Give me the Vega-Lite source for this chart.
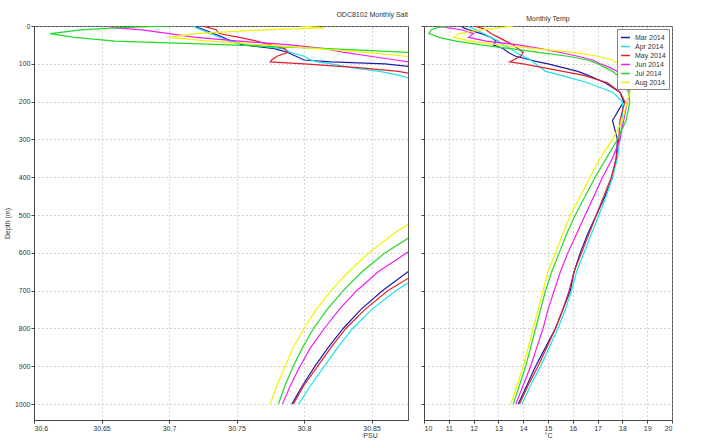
{
  "$schema": "https://vega.github.io/schema/vega-lite/v6.json",
  "padding": {"left": 2, "top": 10, "right": 0, "bottom": 0},
  "config": {
    "font": "Liberation Sans",
    "axis": {
      "labelFontSize": 7, "titleFontSize": 7, "titleFontWeight": "normal",
      "labelColor": "#333", "titleColor": "#333", "domainColor": "#444", "tickColor": "#444",
      "gridDash": [1, 3], "gridColor": "#aaa", "tickSize": 3, "labelPadding": 1, "titlePadding": 0
    },
    "title": {"fontSize": 7, "fontWeight": "normal", "color": "#333", "offset": 4},
    "view": {"stroke": "#555"}
  },
  "datasets": {
    "prof": [
      {"m":"Mar 2014","d":0,"s":30.72,"t":11.5},{"m":"Mar 2014","d":5,"s":30.722,"t":11.6},{"m":"Mar 2014","d":10,"s":30.726,"t":11.8},{"m":"Mar 2014","d":20,"s":30.733,"t":12.3},{"m":"Mar 2014","d":30,"s":30.74,"t":12.7},{"m":"Mar 2014","d":40,"s":30.746,"t":12.9},{"m":"Mar 2014","d":50,"s":30.755,"t":12.8},{"m":"Mar 2014","d":60,"s":30.778,"t":13.2},{"m":"Mar 2014","d":70,"s":30.788,"t":13.4},{"m":"Mar 2014","d":80,"s":30.794,"t":13.7},{"m":"Mar 2014","d":90,"s":30.8,"t":14.3},{"m":"Mar 2014","d":95,"s":30.82,"t":14.6},{"m":"Mar 2014","d":100,"s":30.86,"t":15.0},{"m":"Mar 2014","d":110,"s":30.885,"t":15.6},{"m":"Mar 2014","d":120,"s":30.895,"t":16.2},{"m":"Mar 2014","d":130,"s":30.9,"t":16.6},{"m":"Mar 2014","d":150,"s":30.91,"t":17.3},{"m":"Mar 2014","d":175,"s":30.925,"t":17.9},{"m":"Mar 2014","d":200,"s":30.935,"t":18.05},{"m":"Mar 2014","d":250,"s":30.955,"t":17.6},{"m":"Mar 2014","d":300,"s":30.965,"t":17.8},{"m":"Mar 2014","d":350,"s":30.97,"t":17.75},{"m":"Mar 2014","d":400,"s":30.97,"t":17.6},{"m":"Mar 2014","d":450,"s":30.96,"t":17.3},{"m":"Mar 2014","d":500,"s":30.945,"t":16.95},{"m":"Mar 2014","d":550,"s":30.925,"t":16.6},{"m":"Mar 2014","d":600,"s":30.9,"t":16.3},{"m":"Mar 2014","d":650,"s":30.877,"t":16.05},{"m":"Mar 2014","d":700,"s":30.858,"t":15.9},{"m":"Mar 2014","d":750,"s":30.842,"t":15.6},{"m":"Mar 2014","d":800,"s":30.829,"t":15.3},{"m":"Mar 2014","d":850,"s":30.818,"t":14.9},{"m":"Mar 2014","d":900,"s":30.808,"t":14.5},{"m":"Mar 2014","d":950,"s":30.799,"t":14.15},{"m":"Mar 2014","d":1000,"s":30.791,"t":13.8},

      {"m":"Apr 2014","d":0,"s":30.718,"t":11.8},{"m":"Apr 2014","d":5,"s":30.72,"t":11.9},{"m":"Apr 2014","d":10,"s":30.724,"t":12.1},{"m":"Apr 2014","d":20,"s":30.73,"t":12.4},{"m":"Apr 2014","d":30,"s":30.738,"t":12.7},{"m":"Apr 2014","d":40,"s":30.745,"t":13.0},{"m":"Apr 2014","d":50,"s":30.76,"t":13.2},{"m":"Apr 2014","d":60,"s":30.784,"t":13.5},{"m":"Apr 2014","d":70,"s":30.79,"t":13.7},{"m":"Apr 2014","d":80,"s":30.8,"t":14.0},{"m":"Apr 2014","d":90,"s":30.805,"t":14.3},{"m":"Apr 2014","d":95,"s":30.81,"t":14.4},{"m":"Apr 2014","d":100,"s":30.82,"t":14.5},{"m":"Apr 2014","d":110,"s":30.835,"t":14.7},{"m":"Apr 2014","d":120,"s":30.856,"t":14.9},{"m":"Apr 2014","d":130,"s":30.87,"t":15.5},{"m":"Apr 2014","d":150,"s":30.89,"t":16.6},{"m":"Apr 2014","d":175,"s":30.905,"t":17.6},{"m":"Apr 2014","d":200,"s":30.92,"t":18.0},{"m":"Apr 2014","d":250,"s":30.94,"t":18.0},{"m":"Apr 2014","d":300,"s":30.955,"t":17.9},{"m":"Apr 2014","d":350,"s":30.962,"t":17.8},{"m":"Apr 2014","d":400,"s":30.965,"t":17.6},{"m":"Apr 2014","d":450,"s":30.96,"t":17.35},{"m":"Apr 2014","d":500,"s":30.948,"t":17.05},{"m":"Apr 2014","d":550,"s":30.93,"t":16.75},{"m":"Apr 2014","d":600,"s":30.91,"t":16.45},{"m":"Apr 2014","d":650,"s":30.89,"t":16.15},{"m":"Apr 2014","d":700,"s":30.868,"t":15.95},{"m":"Apr 2014","d":750,"s":30.85,"t":15.7},{"m":"Apr 2014","d":800,"s":30.836,"t":15.4},{"m":"Apr 2014","d":850,"s":30.825,"t":15.05},{"m":"Apr 2014","d":900,"s":30.815,"t":14.7},{"m":"Apr 2014","d":950,"s":30.805,"t":14.3},{"m":"Apr 2014","d":1000,"s":30.796,"t":13.95},

      {"m":"May 2014","d":0,"s":30.725,"t":12.0},{"m":"May 2014","d":5,"s":30.73,"t":12.3},{"m":"May 2014","d":10,"s":30.735,"t":12.5},{"m":"May 2014","d":20,"s":30.737,"t":12.7},{"m":"May 2014","d":30,"s":30.752,"t":13.0},{"m":"May 2014","d":40,"s":30.765,"t":13.3},{"m":"May 2014","d":50,"s":30.775,"t":13.6},{"m":"May 2014","d":60,"s":30.786,"t":13.8},{"m":"May 2014","d":70,"s":30.788,"t":14.0},{"m":"May 2014","d":80,"s":30.78,"t":13.9},{"m":"May 2014","d":90,"s":30.776,"t":13.6},{"m":"May 2014","d":95,"s":30.775,"t":13.45},{"m":"May 2014","d":100,"s":30.8,"t":14.0},{"m":"May 2014","d":110,"s":30.84,"t":14.8},{"m":"May 2014","d":120,"s":30.87,"t":15.6},{"m":"May 2014","d":130,"s":30.885,"t":16.4},{"m":"May 2014","d":150,"s":30.9,"t":17.4},{"m":"May 2014","d":175,"s":30.92,"t":17.9},{"m":"May 2014","d":200,"s":30.935,"t":18.1},{"m":"May 2014","d":250,"s":30.955,"t":17.9},{"m":"May 2014","d":300,"s":30.97,"t":17.85},{"m":"May 2014","d":350,"s":30.975,"t":17.75},{"m":"May 2014","d":400,"s":30.975,"t":17.55},{"m":"May 2014","d":450,"s":30.965,"t":17.25},{"m":"May 2014","d":500,"s":30.95,"t":16.95},{"m":"May 2014","d":550,"s":30.93,"t":16.65},{"m":"May 2014","d":600,"s":30.91,"t":16.35},{"m":"May 2014","d":650,"s":30.885,"t":16.05},{"m":"May 2014","d":700,"s":30.862,"t":15.85},{"m":"May 2014","d":750,"s":30.845,"t":15.6},{"m":"May 2014","d":800,"s":30.831,"t":15.3},{"m":"May 2014","d":850,"s":30.82,"t":14.95},{"m":"May 2014","d":900,"s":30.81,"t":14.6},{"m":"May 2014","d":950,"s":30.8,"t":14.2},{"m":"May 2014","d":1000,"s":30.792,"t":13.85},

      {"m":"Jun 2014","d":0,"s":30.655,"t":10.6},{"m":"Jun 2014","d":5,"s":30.66,"t":11.0},{"m":"Jun 2014","d":10,"s":30.68,"t":11.5},{"m":"Jun 2014","d":20,"s":30.7,"t":12.0},{"m":"Jun 2014","d":30,"s":30.72,"t":11.8},{"m":"Jun 2014","d":40,"s":30.752,"t":12.5},{"m":"Jun 2014","d":50,"s":30.79,"t":13.8},{"m":"Jun 2014","d":60,"s":30.815,"t":14.7},{"m":"Jun 2014","d":70,"s":30.83,"t":15.5},{"m":"Jun 2014","d":80,"s":30.849,"t":16.2},{"m":"Jun 2014","d":90,"s":30.868,"t":16.8},{"m":"Jun 2014","d":95,"s":30.877,"t":16.95},{"m":"Jun 2014","d":100,"s":30.885,"t":17.1},{"m":"Jun 2014","d":110,"s":30.9,"t":17.5},{"m":"Jun 2014","d":120,"s":30.91,"t":17.8},{"m":"Jun 2014","d":130,"s":30.92,"t":17.9},{"m":"Jun 2014","d":150,"s":30.935,"t":18.1},{"m":"Jun 2014","d":175,"s":30.95,"t":18.3},{"m":"Jun 2014","d":200,"s":30.96,"t":18.2},{"m":"Jun 2014","d":250,"s":30.975,"t":18.05},{"m":"Jun 2014","d":300,"s":30.98,"t":17.9},{"m":"Jun 2014","d":350,"s":30.975,"t":17.6},{"m":"Jun 2014","d":400,"s":30.965,"t":17.2},{"m":"Jun 2014","d":450,"s":30.95,"t":16.85},{"m":"Jun 2014","d":500,"s":30.93,"t":16.5},{"m":"Jun 2014","d":550,"s":30.905,"t":16.15},{"m":"Jun 2014","d":600,"s":30.876,"t":15.8},{"m":"Jun 2014","d":650,"s":30.855,"t":15.5},{"m":"Jun 2014","d":700,"s":30.839,"t":15.25},{"m":"Jun 2014","d":750,"s":30.826,"t":15.0},{"m":"Jun 2014","d":800,"s":30.815,"t":14.8},{"m":"Jun 2014","d":850,"s":30.805,"t":14.55},{"m":"Jun 2014","d":900,"s":30.797,"t":14.3},{"m":"Jun 2014","d":950,"s":30.79,"t":14.0},{"m":"Jun 2014","d":1000,"s":30.784,"t":13.7},

      {"m":"Jul 2014","d":0,"s":30.7,"t":11.0},{"m":"Jul 2014","d":5,"s":30.66,"t":10.5},{"m":"Jul 2014","d":10,"s":30.635,"t":10.3},{"m":"Jul 2014","d":20,"s":30.612,"t":10.2},{"m":"Jul 2014","d":30,"s":30.63,"t":10.6},{"m":"Jul 2014","d":40,"s":30.66,"t":11.3},{"m":"Jul 2014","d":50,"s":30.745,"t":12.3},{"m":"Jul 2014","d":60,"s":30.818,"t":13.5},{"m":"Jul 2014","d":70,"s":30.878,"t":14.6},{"m":"Jul 2014","d":80,"s":30.9,"t":15.8},{"m":"Jul 2014","d":90,"s":30.91,"t":16.6},{"m":"Jul 2014","d":95,"s":30.915,"t":16.8},{"m":"Jul 2014","d":100,"s":30.92,"t":17.0},{"m":"Jul 2014","d":110,"s":30.93,"t":17.3},{"m":"Jul 2014","d":120,"s":30.94,"t":17.6},{"m":"Jul 2014","d":130,"s":30.945,"t":17.8},{"m":"Jul 2014","d":150,"s":30.955,"t":18.0},{"m":"Jul 2014","d":175,"s":30.965,"t":18.25},{"m":"Jul 2014","d":200,"s":30.97,"t":18.3},{"m":"Jul 2014","d":250,"s":30.98,"t":18.15},{"m":"Jul 2014","d":300,"s":30.975,"t":17.8},{"m":"Jul 2014","d":350,"s":30.965,"t":17.35},{"m":"Jul 2014","d":400,"s":30.95,"t":16.9},{"m":"Jul 2014","d":450,"s":30.93,"t":16.5},{"m":"Jul 2014","d":500,"s":30.91,"t":16.1},{"m":"Jul 2014","d":550,"s":30.882,"t":15.75},{"m":"Jul 2014","d":600,"s":30.86,"t":15.45},{"m":"Jul 2014","d":650,"s":30.843,"t":15.15},{"m":"Jul 2014","d":700,"s":30.829,"t":14.9},{"m":"Jul 2014","d":750,"s":30.817,"t":14.7},{"m":"Jul 2014","d":800,"s":30.807,"t":14.5},{"m":"Jul 2014","d":850,"s":30.799,"t":14.3},{"m":"Jul 2014","d":900,"s":30.792,"t":14.1},{"m":"Jul 2014","d":950,"s":30.786,"t":13.85},{"m":"Jul 2014","d":1000,"s":30.781,"t":13.6},

      {"m":"Aug 2014","d":0,"s":30.797,"t":13.6},{"m":"Aug 2014","d":5,"s":30.815,"t":13.0},{"m":"Aug 2014","d":10,"s":30.77,"t":12.3},{"m":"Aug 2014","d":20,"s":30.72,"t":11.4},{"m":"Aug 2014","d":30,"s":30.7,"t":11.2},{"m":"Aug 2014","d":40,"s":30.73,"t":11.9},{"m":"Aug 2014","d":50,"s":30.77,"t":13.0},{"m":"Aug 2014","d":60,"s":30.81,"t":14.5},{"m":"Aug 2014","d":70,"s":30.845,"t":16.0},{"m":"Aug 2014","d":80,"s":30.876,"t":17.0},{"m":"Aug 2014","d":90,"s":30.89,"t":17.6},{"m":"Aug 2014","d":95,"s":30.895,"t":17.7},{"m":"Aug 2014","d":100,"s":30.9,"t":17.9},{"m":"Aug 2014","d":110,"s":30.91,"t":18.0},{"m":"Aug 2014","d":120,"s":30.92,"t":18.2},{"m":"Aug 2014","d":130,"s":30.93,"t":18.35},{"m":"Aug 2014","d":150,"s":30.94,"t":18.4},{"m":"Aug 2014","d":175,"s":30.95,"t":18.3},{"m":"Aug 2014","d":200,"s":30.96,"t":18.2},{"m":"Aug 2014","d":250,"s":30.97,"t":18.0},{"m":"Aug 2014","d":300,"s":30.965,"t":17.6},{"m":"Aug 2014","d":350,"s":30.95,"t":17.1},{"m":"Aug 2014","d":400,"s":30.93,"t":16.7},{"m":"Aug 2014","d":450,"s":30.91,"t":16.3},{"m":"Aug 2014","d":500,"s":30.888,"t":15.9},{"m":"Aug 2014","d":550,"s":30.866,"t":15.6},{"m":"Aug 2014","d":600,"s":30.848,"t":15.3},{"m":"Aug 2014","d":650,"s":30.833,"t":15.0},{"m":"Aug 2014","d":700,"s":30.82,"t":14.8},{"m":"Aug 2014","d":750,"s":30.809,"t":14.6},{"m":"Aug 2014","d":800,"s":30.8,"t":14.4},{"m":"Aug 2014","d":850,"s":30.792,"t":14.2},{"m":"Aug 2014","d":900,"s":30.786,"t":14.0},{"m":"Aug 2014","d":950,"s":30.78,"t":13.75},{"m":"Aug 2014","d":1000,"s":30.775,"t":13.5}
    ]
  },
  "resolve": {"legend": {"color": "independent"}},
  "spacing": 11,
  "hconcat": [
    {
      "width": 374,
      "height": 394,
      "title": {"text": "ODC8102 Monthly Salt", "anchor": "end"},
      "data": {"name": "prof"},
      "mark": {"type": "line", "clip": true, "strokeWidth": 1.2},
      "encoding": {
        "x": {
          "field": "s", "type": "quantitative",
          "scale": {"domain": [30.6, 30.877], "nice": false, "zero": false},
          "axis": {"values": [30.6, 30.65, 30.7, 30.75, 30.8, 30.85], "format": "~g", "title": "PSU", "titleX": 336}
        },
        "y": {
          "field": "d", "type": "quantitative",
          "scale": {"domain": [0, 1042], "reverse": true, "nice": false},
          "axis": {"values": [0, 100, 200, 300, 400, 500, 600, 700, 800, 900, 1000], "format": "d", "title": "Depth (m)", "titlePadding": 4}
        },
        "color": {
          "field": "m", "type": "nominal",
          "scale": {
            "domain": ["Mar 2014", "Apr 2014", "May 2014", "Jun 2014", "Jul 2014", "Aug 2014"],
            "range": ["#1c1ca8", "#19e3ea", "#e3202a", "#f21cf2", "#22d92a", "#f2f200"]
          },
          "legend": null
        },
        "order": {"field": "d", "type": "quantitative"}
      }
    },
    {
      "width": 248,
      "height": 394,
      "title": {"text": "Monthly Temp", "anchor": "middle"},
      "data": {"name": "prof"},
      "mark": {"type": "line", "clip": true, "strokeWidth": 1.2},
      "encoding": {
        "x": {
          "field": "t", "type": "quantitative",
          "scale": {"domain": [10, 20], "nice": false, "zero": false},
          "axis": {"values": [10, 11, 12, 13, 14, 15, 16, 17, 18, 19, 20], "format": "d", "title": "°C"}
        },
        "y": {
          "field": "d", "type": "quantitative",
          "scale": {"domain": [0, 1042], "reverse": true, "nice": false},
          "axis": {"values": [0, 100, 200, 300, 400, 500, 600, 700, 800, 900, 1000], "labels": false, "title": null}
        },
        "color": {
          "field": "m", "type": "nominal",
          "scale": {
            "domain": ["Mar 2014", "Apr 2014", "May 2014", "Jun 2014", "Jul 2014", "Aug 2014"],
            "range": ["#1c1ca8", "#19e3ea", "#e3202a", "#f21cf2", "#22d92a", "#f2f200"]
          },
          "legend": {
            "orient": "top-right", "title": null, "symbolType": "stroke", "symbolStrokeWidth": 1.5,
            "symbolSize": 80, "fillColor": "white", "strokeColor": "#888", "padding": 3,
            "labelFontSize": 7, "rowPadding": 0, "offset": 3, "labelColor": "#333"
          }
        },
        "order": {"field": "d", "type": "quantitative"}
      }
    }
  ]
}
